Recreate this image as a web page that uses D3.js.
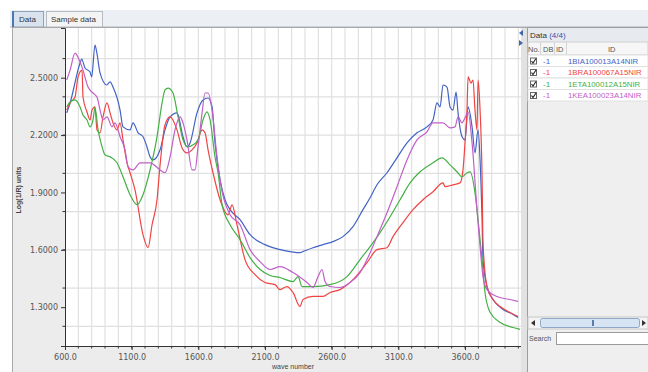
<!DOCTYPE html>
<html>
<head>
<meta charset="utf-8">
<script src="https://cdn.jsdelivr.net/npm/d3@7"></script>
<style>
  body { margin: 0; background: #fff; }
  svg { display: block; font-family: 'Liberation Sans', Arial, sans-serif; }
</style>
</head>
<body>
<div id="chart"></div>
<script>
// spectra: [wavenumber, absorbance]
const sampleIds = ['1BIA100013A14NIR', '1BRA100067A15NIR', '1ETA100012A15NIR', '1KEA100023A14NIR'];
const dbValues = ['-1', '-1', '-1', '-1'];

const bia13 = [[613,2.316],[638,2.368],[713,2.577],[725,2.598],[750,2.551],[788,2.530],[800,2.504],[825,2.671],[838,2.634],
  [863,2.525],[913,2.462],[938,2.478],[960,2.451],[1013,2.331],[1035,2.243],[1088,2.227],[1110,2.264],[1148,2.212],
  [1185,2.191],[1215,2.138],[1238,2.086],[1260,2.070],[1313,2.123],[1350,2.227],[1388,2.295],[1440,2.316],[1485,2.191],
  [1515,2.138],[1538,2.159],[1590,2.316],[1635,2.384],[1673,2.394],[1703,2.347],[1725,2.159],[1763,1.966],[1800,1.862],
  [1838,1.810],[1913,1.758],[1988,1.679],[2100,1.627],[2213,1.601],[2288,1.591],[2363,1.585],[2385,1.591],[2460,1.611],
  [2535,1.627],[2610,1.643],[2685,1.669],[2760,1.721],[2835,1.810],[2888,1.872],[2940,1.940],[3015,2.003],[3090,2.081],
  [3165,2.159],[3240,2.212],[3315,2.243],[3360,2.279],[3390,2.368],[3413,2.347],[3435,2.462],[3465,2.451],[3488,2.347],
  [3510,2.331],[3533,2.425],[3548,2.316],[3578,2.191],[3600,2.175],[3623,2.347],[3653,2.243],[3675,2.107],[3698,2.227],
  [3713,2.070],[3728,1.757],[3735,1.549],[3765,1.408],[3810,1.340],[3885,1.288],[3960,1.262],[3998,1.246]];

const bra67 = [[613,2.331],[638,2.368],[675,2.399],[698,2.504],[728,2.540],[735,2.399],[765,2.321],[788,2.279],[803,2.331],
  [825,2.347],[840,2.227],[863,2.212],[885,2.295],[915,2.368],[938,2.316],[960,2.264],[990,2.227],[1013,2.264],[1035,2.175],
  [1065,2.055],[1088,2.003],[1125,1.914],[1185,1.679],[1223,1.611],[1253,1.731],[1290,1.862],[1313,2.044],[1350,2.253],
  [1388,2.295],[1440,2.227],[1478,2.133],[1515,2.107],[1553,2.123],[1590,2.159],[1628,2.227],[1650,2.212],[1673,2.123],
  [1710,2.003],[1763,1.862],[1823,1.783],[1853,1.835],[1890,1.731],[1950,1.549],[2025,1.470],[2100,1.429],[2175,1.418],
  [2213,1.392],[2265,1.408],[2310,1.377],[2363,1.304],[2385,1.340],[2460,1.356],[2535,1.356],[2588,1.377],[2663,1.392],
  [2760,1.444],[2865,1.533],[2940,1.601],[3015,1.611],[3060,1.669],[3135,1.742],[3210,1.810],[3285,1.862],[3360,1.904],
  [3435,1.950],[3450,1.930],[3510,1.940],[3563,1.950],[3585,2.018],[3600,2.159],[3615,2.331],[3623,2.504],[3645,2.472],
  [3660,2.488],[3675,2.331],[3690,2.227],[3698,2.488],[3713,2.331],[3728,1.982],[3735,1.638],[3765,1.408],[3810,1.340],
  [3863,1.304],[3938,1.272],[3998,1.251]];

const eta12 = [[613,2.347],[638,2.373],[675,2.384],[713,2.347],[735,2.305],[765,2.279],[788,2.243],[810,2.279],[825,2.342],
  [848,2.227],[878,2.138],[900,2.097],[938,2.086],[990,2.055],[1035,1.982],[1088,1.888],[1140,1.836],[1185,1.888],
  [1238,2.018],[1290,2.191],[1328,2.368],[1350,2.436],[1373,2.446],[1410,2.420],[1448,2.295],[1485,2.175],[1523,2.138],
  [1560,2.149],[1598,2.175],[1635,2.279],[1665,2.321],[1688,2.279],[1725,2.086],[1748,2.003],[1778,1.836],[1838,1.731],
  [1913,1.653],[1988,1.559],[2063,1.497],[2138,1.466],[2213,1.455],[2310,1.434],[2348,1.460],[2378,1.408],[2460,1.408],
  [2588,1.418],[2715,1.460],[2813,1.549],[2888,1.617],[2963,1.690],[3038,1.773],[3113,1.862],[3188,1.950],[3263,2.008],
  [3360,2.055],[3428,2.081],[3488,2.044],[3540,2.008],[3578,1.982],[3615,2.003],[3638,2.008],[3675,1.898],[3698,1.757],
  [3728,1.549],[3750,1.377],[3788,1.273],[3863,1.220],[3960,1.194],[4013,1.184]];

const kea23 = [[613,2.488],[638,2.540],[675,2.629],[713,2.582],[735,2.540],[773,2.451],[810,2.420],[840,2.399],[863,2.331],
  [885,2.279],[915,2.295],[953,2.243],[975,2.264],[1013,2.191],[1050,2.123],[1073,2.034],[1110,2.018],[1163,2.055],
  [1238,2.055],[1313,2.018],[1350,2.003],[1388,2.086],[1425,2.227],[1463,2.295],[1485,2.264],[1515,2.175],[1553,2.018],
  [1575,2.018],[1598,2.138],[1628,2.316],[1650,2.420],[1673,2.420],[1703,2.331],[1740,2.086],[1763,1.966],[1838,1.783],
  [1913,1.731],[1988,1.601],[2063,1.538],[2138,1.497],[2213,1.512],[2310,1.481],[2415,1.429],[2460,1.403],[2498,1.460],
  [2528,1.497],[2550,1.434],[2588,1.408],[2663,1.403],[2738,1.429],[2813,1.481],[2865,1.549],[2940,1.669],[3015,1.794],
  [3090,1.930],[3165,2.070],[3240,2.175],[3315,2.217],[3360,2.264],[3435,2.264],[3488,2.238],[3525,2.243],[3548,2.295],
  [3578,2.264],[3600,2.290],[3623,2.321],[3653,2.159],[3690,1.810],[3713,1.617],[3735,1.460],[3765,1.392],[3840,1.356],
  [3938,1.340],[3998,1.330]];

const xTickValues = [600, 1100, 1600, 2100, 2600, 3100, 3600];
const yTickValues = [1.3, 1.6, 1.9, 2.2, 2.5];

const seriesList = [bia13, bra67, eta12, kea23];
const colors = ['#4263c6', '#f04444', '#44b044', '#c060c8'];

const width = 648, height = 372;
const plot = {left: 65, right: 521, top: 28, bottom: 346};

const svg = d3.select('#chart').append('svg')
  .attr('width', width)
  .attr('height', height);

// frame, tabs
svg.append('rect').attr('x', 10).attr('y', 10).attr('width', 638).attr('height', 17).attr('fill', '#eceff3');
svg.append('line').attr('x1', 10).attr('x2', 648).attr('y1', 27).attr('y2', 27).attr('stroke', '#a9b4c0');
svg.append('rect').attr('x', 12.5).attr('y', 11.5).attr('width', 31).attr('height', 15.5)
  .attr('fill', '#d9e3ee').attr('stroke', '#8ea3ba');
svg.append('rect').attr('x', 12).attr('y', 11).attr('width', 2).attr('height', 16).attr('fill', '#4a78b0');
svg.append('text').attr('x', 19).attr('y', 22).attr('font-size', 8).attr('fill', '#333').text('Data');
svg.append('rect').attr('x', 46.5).attr('y', 11.5).attr('width', 56).attr('height', 15.5)
  .attr('fill', '#f4f4f4').attr('stroke', '#b5bcc4');
svg.append('text').attr('x', 51).attr('y', 22).attr('font-size', 8).attr('fill', '#333').text('Sample data');

svg.append('rect').attr('x', 12.5).attr('y', 27.5).attr('width', 515).attr('height', 350)
  .attr('fill', '#ececec').attr('stroke', '#a8a8a8');

const x = d3.scaleLinear().domain([600, 4020]).range([plot.left, plot.right]);
const y = d3.scaleLinear().domain([1.097, 2.76]).range([plot.bottom, plot.top]);

svg.append('rect')
  .attr('x', plot.left).attr('y', plot.top)
  .attr('width', plot.right - plot.left).attr('height', plot.bottom - plot.top)
  .attr('fill', '#fff');

// grid
const xGrid = d3.range(700, 4020, 100);
const yGrid = d3.range(1.2, 2.75, 0.2);
svg.append('g').selectAll('line').data(xGrid).enter().append('line')
  .attr('x1', d => x(d)).attr('x2', d => x(d))
  .attr('y1', plot.top).attr('y2', plot.bottom)
  .attr('stroke', '#e0e0e0').attr('stroke-width', 1.2);
svg.append('g').selectAll('line').data(yGrid).enter().append('line')
  .attr('x1', plot.left).attr('x2', plot.right)
  .attr('y1', d => y(d)).attr('y2', d => y(d))
  .attr('stroke', '#e0e0e0').attr('stroke-width', 1.2);

svg.append('clipPath').attr('id', 'plotClip').append('rect')
  .attr('x', plot.left).attr('y', plot.top)
  .attr('width', plot.right - plot.left).attr('height', plot.bottom - plot.top);

const line = d3.line()
  .x(d => x(d[0]))
  .y(d => y(d[1]))
  .curve(d3.curveMonotoneX);

svg.append('g').attr('clip-path', 'url(#plotClip)')
  .selectAll('path').data(seriesList).enter().append('path')
  .attr('d', line)
  .attr('fill', 'none')
  .attr('stroke', (d, i) => colors[i])
  .attr('stroke-width', 1.2)
  .attr('stroke-linejoin', 'round');

// axes
const xAxis = svg.append('g')
  .attr('transform', 'translate(0,' + plot.bottom + ')')
  .call(d3.axisBottom(x).tickValues(xTickValues).tickFormat(d3.format('.1f')).tickSize(4));
xAxis.append('g').selectAll('line').data(d3.range(700, 4020, 100)).enter().append('line')
  .attr('x1', d => x(d)).attr('x2', d => x(d)).attr('y1', 0).attr('y2', 2.5).attr('stroke', '#333');

const yAxis = svg.append('g')
  .attr('transform', 'translate(' + plot.left + ',0)')
  .call(d3.axisLeft(y).tickValues(yTickValues).tickFormat(d3.format('.4f')).tickSize(4));
yAxis.append('g').selectAll('line').data(yGrid).enter().append('line')
  .attr('x1', -2.5).attr('x2', 0).attr('y1', d => y(d)).attr('y2', d => y(d)).attr('stroke', '#333');

[xAxis, yAxis].forEach(a => {
  a.select('.domain').attr('stroke', '#333');
  a.selectAll('.tick line').attr('stroke', '#333');
  a.selectAll('text').attr('font-size', 8).attr('fill', '#555')
    .attr('font-family', 'DejaVu Sans, sans-serif');
});
xAxis.selectAll('.tick text').attr('dy', '0.9em');

svg.append('text')
  .attr('transform', 'translate(21,190) rotate(-90)')
  .attr('text-anchor', 'middle')
  .attr('font-size', 7).attr('font-weight', 'bold').attr('fill', '#444')
  .text('Log(1/R) units');
svg.append('text')
  .attr('x', (plot.left + plot.right) / 2).attr('y', 369)
  .attr('text-anchor', 'middle')
  .attr('font-size', 7).attr('fill', '#444')
  .text('wave number');

// splitter and side panel
svg.append('rect').attr('x', 521).attr('y', 28).attr('width', 6).attr('height', 344).attr('fill', '#e2e2e2');
svg.append('path').attr('d', 'M519,33 L523,30 L523,36 Z').attr('fill', '#3f67a8');
svg.append('path').attr('d', 'M523,43 L519,40 L519,46 Z').attr('fill', '#3f67a8');

const panel = svg.append('g');
panel.append('rect').attr('x', 527.5).attr('y', 27.5).attr('width', 121).attr('height', 350)
  .attr('fill', '#efefef').attr('stroke', '#9d9d9d');
panel.append('rect').attr('x', 528).attr('y', 28).attr('width', 120).attr('height', 14).attr('fill', '#e7eaee');
const head = panel.append('text').attr('x', 530).attr('y', 38).attr('font-size', 8).attr('fill', '#333');
head.append('tspan').text('Data ');
head.append('tspan').attr('fill', '#4050b0').text('(' + sampleIds.length + '/' + sampleIds.length + ')');

panel.append('rect').attr('x', 528).attr('y', 42).attr('width', 120).attr('height', 13)
  .attr('fill', '#f6f6f6').attr('stroke', '#d0d0d0');
const cols = [{t: 'No.', x: 528}, {t: 'DB', x: 543}, {t: 'ID', x: 556}, {t: 'ID', x: 608}];
panel.selectAll('.colhead').data(cols).enter().append('text')
  .attr('x', d => d.x).attr('y', 51.5).attr('font-size', 7.5).attr('fill', '#555').text(d => d.t);
[540, 554, 566].forEach(cx => {
  panel.append('line').attr('x1', cx + 0.5).attr('x2', cx + 0.5).attr('y1', 42).attr('y2', 101).attr('stroke', '#d4d4d4');
});

const rowH = 11.5;
const rows = panel.selectAll('.row').data(sampleIds).enter().append('g')
  .attr('transform', (d, i) => 'translate(0,' + (55 + i * rowH) + ')');
rows.append('rect').attr('x', 528).attr('y', 0).attr('width', 120).attr('height', rowH)
  .attr('fill', '#fff').attr('stroke', '#e0e0e0');
rows.append('rect').attr('x', 530.5).attr('y', 3).attr('width', 6).attr('height', 6)
  .attr('fill', '#fff').attr('stroke', '#666');
rows.append('path').attr('d', 'M531.5,6 L533,8 L536,3.5').attr('fill', 'none').attr('stroke', '#222').attr('stroke-width', 1.1);
rows.append('text').attr('x', 543).attr('y', 8.8).attr('font-size', 8)
  .attr('fill', (d, i) => colors[i]).text((d, i) => dbValues[i]);
rows.append('text').attr('x', 568).attr('y', 8.8).attr('font-size', 7.8)
  .attr('fill', (d, i) => colors[i]).text(d => d);

// scrollbar + search
panel.append('rect').attr('x', 528).attr('y', 317).attr('width', 120).attr('height', 12).attr('fill', '#f4f4f4').attr('stroke', '#c8c8c8');
panel.append('path').attr('d', 'M531,323 L535,320 L535,326 Z').attr('fill', '#333');
panel.append('rect').attr('x', 540.5).attr('y', 318.5).attr('width', 99).attr('height', 9)
  .attr('fill', '#d6e4f3').attr('stroke', '#8ea8c6').attr('rx', 2);
panel.append('rect').attr('x', 592).attr('y', 320).attr('width', 2).attr('height', 6).attr('fill', '#5a7da8');
panel.append('path').attr('d', 'M646,323 L642,320 L642,326 Z').attr('fill', '#333');
panel.append('text').attr('x', 529).attr('y', 341).attr('font-size', 7).attr('fill', '#555').text('Search');
panel.append('rect').attr('x', 556.5).attr('y', 332.5).attr('width', 92).attr('height', 12)
  .attr('fill', '#fff').attr('stroke', '#9a9a9a');
</script>
</body>
</html>
